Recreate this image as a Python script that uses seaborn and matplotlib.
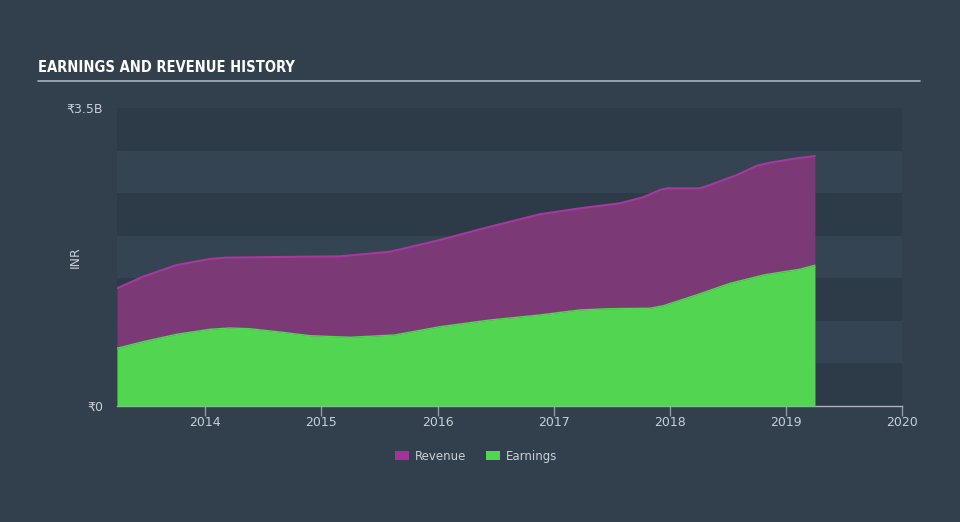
import numpy as np
import pandas as pd
import matplotlib
matplotlib.use("Agg")
import matplotlib.pyplot as plt
import seaborn as sns
from matplotlib.patches import Patch

# ---- data (decimal years, values in billions INR) ----
rev_dates = [2013.24, 2013.464, 2013.754, 2014.041, 2014.17, 2014.615, 2015.16,
             2015.591, 2016.021, 2016.452, 2016.882, 2017.227, 2017.571, 2017.769,
             2017.916, 2017.976, 2018.26, 2018.346, 2018.579, 2018.751, 2018.863,
             2019.095, 2019.25]
revenue = [1.382, 1.519, 1.656, 1.727, 1.742, 1.750, 1.758,
           1.812, 1.950, 2.106, 2.252, 2.322, 2.381, 2.451,
           2.537, 2.557, 2.557, 2.596, 2.713, 2.822, 2.858,
           2.909, 2.936]
earn_dates = [2013.24, 2013.464, 2013.754, 2014.041, 2014.21, 2014.38, 2014.615,
              2014.90, 2015.245, 2015.63, 2016.021, 2016.452, 2016.882, 2017.227,
              2017.485, 2017.83, 2017.945, 2018.23, 2018.52, 2018.81, 2018.95,
              2019.12, 2019.25]
earnings = [0.678, 0.755, 0.842, 0.901, 0.916, 0.908, 0.873,
            0.826, 0.807, 0.834, 0.931, 1.010, 1.069, 1.128,
            1.143, 1.148, 1.178, 1.304, 1.441, 1.539, 1.570,
            1.606, 1.653]
x_ticks = [2014, 2015, 2016, 2017, 2018, 2019, 2020]
y_tick_vals = [0, 3.5]
y_tick_labels = ["₹0", "₹3.5B"]
title = "EARNINGS AND REVENUE HISTORY"

rev_df = pd.DataFrame({"date": rev_dates, "value": revenue})
earn_df = pd.DataFrame({"date": earn_dates, "value": earnings})

BG = "#323f4d"
BAND_DARK = "#2d3a48"
BAND_LIGHT = "#344452"
PURPLE = "#7b3a76"
PURPLE_LINE = "#a43a9c"
GREEN = "#52d652"
TEXT = "#c9cfd6"

sns.set_theme(style="dark")
plt.rcParams["font.family"] = ["DejaVu Sans"]

fig = plt.figure(figsize=(9.6, 5.22), dpi=100, facecolor=BG)
ax = fig.add_axes([117 / 960, 1 - 406 / 522, (902 - 117) / 960, (406 - 108) / 522])
ax.set_facecolor(BG)

# alternating horizontal bands
step = 0.5
for i, lo in enumerate(np.arange(0, 3.5, step)):
    ax.axhspan(lo, lo + step, xmin=0, xmax=1,
               color=BAND_DARK if i % 2 == 0 else BAND_LIGHT, lw=0, zorder=0)

ax.fill_between(rev_df["date"], 0, rev_df["value"], color=PURPLE, lw=0, zorder=2)
sns.lineplot(data=rev_df, x="date", y="value", ax=ax, color=PURPLE_LINE, lw=1.5, zorder=3)
ax.fill_between(earn_df["date"], 0, earn_df["value"], color=GREEN, lw=0, zorder=4)
sns.lineplot(data=earn_df, x="date", y="value", ax=ax, color=GREEN, lw=1.0, zorder=5)

ax.set_xlim(2013.24, 2020.0)
ax.set_ylim(0, 3.5)
ax.set_xticks(x_ticks)
ax.set_xticklabels([str(t) for t in x_ticks], color=TEXT, fontsize=9)
ax.set_yticks(y_tick_vals)
ax.set_yticklabels(y_tick_labels, color=TEXT, fontsize=9)
ax.set_xlabel("")
ax.set_ylabel("INR", color=TEXT, fontsize=9)
ax.yaxis.set_label_coords(-0.045, 0.5)
ax.tick_params(axis="x", length=7, width=1, color="#8e99a6", pad=0, bottom=True)
ax.tick_params(axis="y", length=0, pad=10)
for s in ["top", "right", "left"]:
    ax.spines[s].set_visible(False)
ax.spines["bottom"].set_color("#aab3bf")
ax.spines["bottom"].set_linewidth(1)
ax.grid(False)

# title and underline
fig.text(38 / 960, 1 - 67 / 522, title, color="white", fontsize=10.5,
         fontweight="bold", fontstretch="condensed", family=["DejaVu Sans"],
         va="center", ha="left")
fig.add_artist(plt.Line2D([38 / 960, 920 / 960], [1 - 81 / 522, 1 - 81 / 522],
                          color="#aab3bf", lw=1.2))

handles = [Patch(facecolor="#a3339b", edgecolor="none", label="Revenue"),
           Patch(facecolor=GREEN, edgecolor="none", label="Earnings")]
leg = fig.legend(handles=handles, loc="center", bbox_to_anchor=(0.496, 1 - 456 / 522),
                 ncol=2, frameon=False, fontsize=8.5, handlelength=1.2, handleheight=0.9,
                 columnspacing=1.6, handletextpad=0.5)
for t in leg.get_texts():
    t.set_color(TEXT)

fig.savefig("out.png", dpi=100, facecolor=BG)
